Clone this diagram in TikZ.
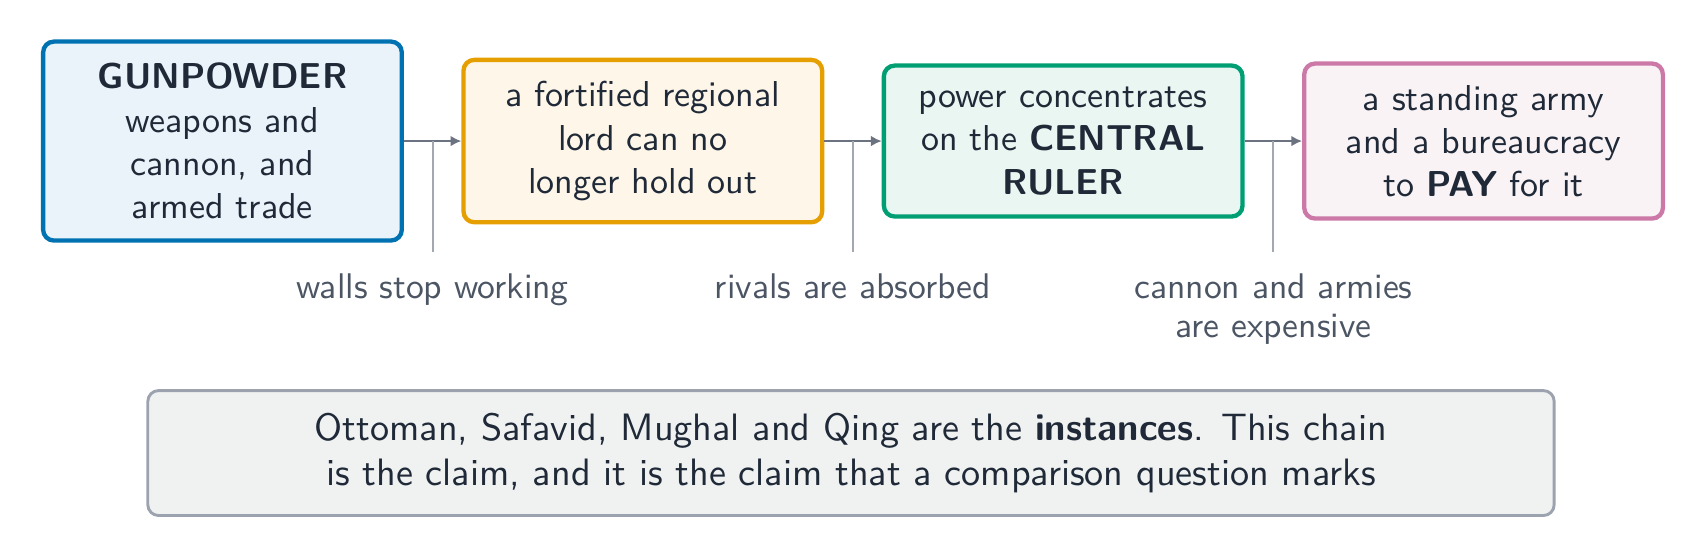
\documentclass[tikz,border=0pt]{standalone}
\usetikzlibrary{positioning,arrows.meta}

\definecolor{ink}{HTML}{1F2937}
\definecolor{notegray}{HTML}{4B5563}
\definecolor{linkgray}{HTML}{6B7280}
\definecolor{tickgray}{HTML}{A3A8B0}
\definecolor{gunblue}{HTML}{0072B2}
\definecolor{gunfill}{HTML}{EAF3FA}
\definecolor{lordorange}{HTML}{E69F00}
\definecolor{lordfill}{HTML}{FDF6E9}
\definecolor{rulergreen}{HTML}{009E73}
\definecolor{rulerfill}{HTML}{EAF6F2}
\definecolor{paypink}{HTML}{CC79A7}
\definecolor{payfill}{HTML}{F9F3F6}
\definecolor{claimgray}{HTML}{9CA3AF}
\definecolor{claimfill}{HTML}{F0F2F2}

\tikzset{
    stage/.style={draw, rounded corners=3pt, line width=1.2pt, inner sep=6pt,
        text width=3.08cm, align=center, text=ink},
    link/.style={-{Latex[length=3pt,width=3pt]}, line width=0.8pt, draw=linkgray},
    tick/.style={line width=0.6pt, draw=tickgray},
    note/.style={font=\sffamily\fontsize{9.9}{10.8}\selectfont, text=notegray,
        align=center, inner sep=3pt},
    claim/.style={draw=claimgray, fill=claimfill, rounded corners=3pt, line width=0.8pt,
        font=\sffamily\fontsize{10.6}{12.5}\selectfont,
        minimum width=13.73cm, minimum height=1.22cm, align=center, text=ink}
}

\begin{document}
\begin{tikzpicture}[font=\sffamily]
    \useasboundingbox (0,0) rectangle (16.636,-5.457);

    % The chain of stages
    \node[stage, draw=gunblue, fill=gunfill] (gun) at (2.172,-1.377)
        {\textbf{GUNPOWDER}\\ weapons and\\ cannon, and\\ armed trade};
    \node[stage, draw=lordorange, fill=lordfill, right=0.56cm of gun] (lord)
        {a fortified regional\\ lord can no\\ longer hold out};
    \node[stage, draw=rulergreen, fill=rulerfill, right=0.56cm of lord] (ruler)
        {power concentrates\\ on the \textbf{CENTRAL}\\ \textbf{RULER}};
    \node[stage, draw=paypink, fill=payfill, right=0.56cm of ruler] (pay)
        {a standing army\\ and a bureaucracy\\ to \textbf{PAY} for it};

    % Arrows between the stages
    \draw[link] (gun) -- coordinate[midway] (m1) (lord);
    \draw[link] (lord) -- coordinate[midway] (m2) (ruler);
    \draw[link] (ruler) -- coordinate[midway] (m3) (pay);

    % The reasons hang below each arrow
    \coordinate[below=1.08cm of m1] (w1);
    \coordinate[below=1.08cm of m2] (w2);
    \coordinate[below=1.08cm of m3] (w3);
    \draw[tick] (m1) -- (w1);
    \draw[tick] (m2) -- (w2);
    \draw[tick] (m3) -- (w3);
    \node[note, below=0.1cm of w1, anchor=north] (walls) {walls stop working};
    \node[note, below=0.1cm of w2, anchor=north] (rivals) {rivals are absorbed};
    \node[note, below=0.1cm of w3, anchor=north] (costs) {cannon and armies\\ are expensive};

    % The claim underneath
    \node[claim] (instances) at (8.308,-4.423)
        {Ottoman, Safavid, Mughal and Qing are the \textbf{instances}. This chain\\
         is the claim, and it is the claim that a comparison question marks};
\end{tikzpicture}
\end{document}
